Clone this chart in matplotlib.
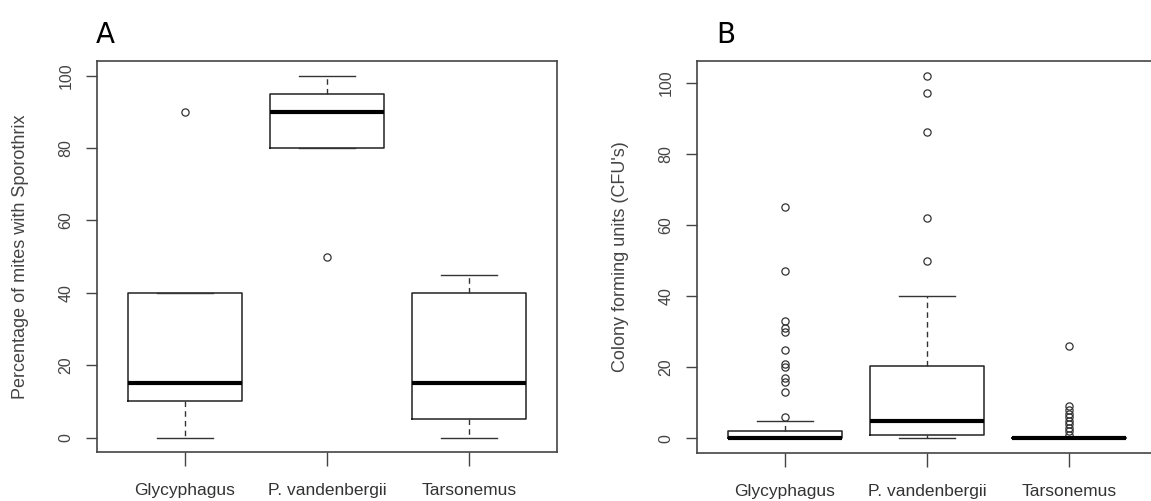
import numpy as np
import matplotlib
matplotlib.use('Agg')
import matplotlib.pyplot as plt

plt.rcParams['font.family'] = ['Liberation Sans', 'DejaVu Sans']

groups = ['Glycyphagus', 'P. vandenbergii', 'Tarsonemus']

# panel A: percentage of mites with Sporothrix
a_whislo = [0, 80, 0]
a_q1 = [10, 80, 5]
a_med = [15, 90, 15]
a_q3 = [40, 95, 40]
a_whishi = [40, 100, 45]
a_fliers = [[90], [50], []]

# panel B: colony forming units
b_whislo = [0, 0, 0]
b_q1 = [0, 1, 0]
b_med = [0, 5, 0]
b_q3 = [2, 20.5, 0]
b_whishi = [5, 40, 0]
b_fliers = [[6, 13, 16, 17, 20, 21, 25, 30, 31, 33, 47, 65],
            [50, 62, 86, 97, 102],
            [1, 2, 3, 4, 5, 6, 7, 8, 9, 26]]


def make_stats(lo, q1, med, q3, hi, fl):
    out = []
    for i in range(len(groups)):
        out.append({'whislo': lo[i], 'q1': q1[i], 'med': med[i], 'q3': q3[i],
                    'whishi': hi[i], 'fliers': fl[i], 'label': groups[i]})
    return out


def draw(ax, stats, ylabel, ylim):
    ax.bxp(stats, positions=[1, 2, 3], widths=0.8, showfliers=True,
           boxprops=dict(color='#222222', linewidth=1.1),
           medianprops=dict(color='black', linewidth=3),
           whiskerprops=dict(color='#333333', linewidth=1, linestyle=(0, (4, 3))),
           capprops=dict(color='#333333', linewidth=1),
           capwidths=0.4,
           flierprops=dict(marker='o', markerfacecolor='none',
                           markeredgecolor='#333333', markersize=5.2,
                           markeredgewidth=0.9, linestyle='none'))
    ax.set_xlim(0.38, 3.62)
    ax.set_ylim(*ylim)
    ax.set_yticks([0, 20, 40, 60, 80, 100])
    ax.set_xticks([1, 2, 3])
    ax.set_xticklabels(groups, fontsize=12.5, color='#333333')
    ax.tick_params(axis='y', labelrotation=90, labelsize=11.5, labelcolor='#444444',
                   length=8, width=1, color='#444444', pad=9)
    ax.tick_params(axis='x', length=10, width=1, color='#444444', pad=12)
    for lab in ax.get_yticklabels():
        lab.set_verticalalignment('center')
    ax.set_ylabel(ylabel, fontsize=13, color='#444444', labelpad=21)
    for s in ax.spines.values():
        s.set_color('#444444')
        s.set_linewidth(1.2)


fig = plt.figure(figsize=(11.51, 5.01), dpi=100)
ax1 = fig.add_axes([0.0843, 0.0978, 0.3996, 0.7804])
ax2 = fig.add_axes([0.6056, 0.0958, 0.3996, 0.7824])

draw(ax1, make_stats(a_whislo, a_q1, a_med, a_q3, a_whishi, a_fliers),
     'Percentage of mites with Sporothrix', (-4, 104))
draw(ax2, make_stats(b_whislo, b_q1, b_med, b_q3, b_whishi, b_fliers),
     "Colony forming units (CFU's)", (-4.08, 106.08))

fig.text(0.083, 0.93, 'A', fontsize=20, family='DejaVu Sans', va='center')
fig.text(0.622, 0.93, 'B', fontsize=20, family='DejaVu Sans', va='center')

fig.savefig('out.png', dpi=100, facecolor='white')
